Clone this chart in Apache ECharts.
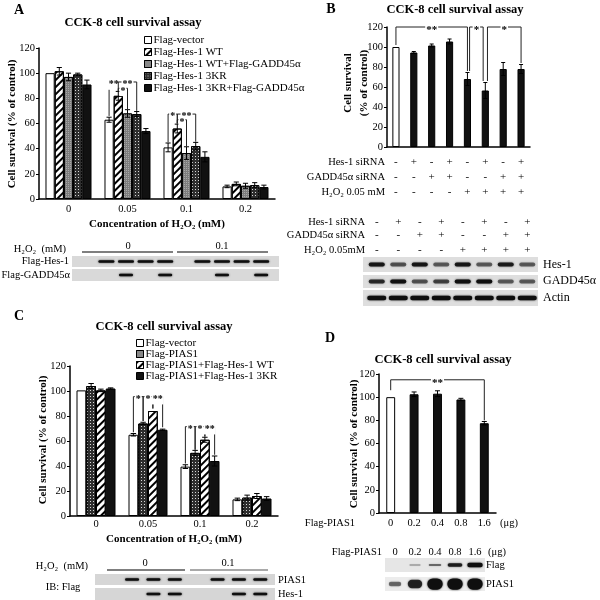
<!DOCTYPE html>
<html><head><meta charset="utf-8">
<script src="https://cdn.jsdelivr.net/npm/echarts@6/dist/echarts.min.js"></script>
<style>html,body{margin:0;padding:0;background:#fff}#c{width:600px;height:600px}</style>
</head><body><div id="c"></div>
<script>
// ================= DATA =================
// Panel A
const aCategories = ['0', '0.05', '0.1', '0.2'];
const aSeriesNames = ['Flag-vector', 'Flag-Hes-1 WT', 'Flag-Hes-1 WT+Flag-GADD45α', 'Flag-Hes-1 3KR', 'Flag-Hes-1 3KR+Flag-GADD45α'];
const aVector      = [100, 63, 41, 10];
const aHesWT       = [101.5, 82, 56, 12];
const aHesWTGadd   = [97, 68, 36.5, 10.5];
const aHes3KR      = [99, 67.5, 42, 11];
const aHes3KRGadd  = [91, 54, 33.5, 9.5];
const aVectorErr     = [0, 2, 3.5, 1];
const aHesWTErr      = [3, 3.5, 3.5, 1.5];
const aHesWTGaddErr  = [3, 3, 5, 2];
const aHes3KRErr     = [1, 2, 3, 2];
const aHes3KRGaddErr = [3.5, 2, 4, 1.5];
// brackets: fromCat, fromSlot, toCat, toSlot, yFrom, yTo, yTop, label
const aBrackets = [
  [1, 0, 1, 1, 66, 86, 93, '**'],
  [1, 1, 1, 3, 86, 70, 93, '**'],
  [1, 1, 1, 2, 86, 71, 88, '*'],
  [2, 0, 2, 1, 45, 60, 67.5, '*'],
  [2, 1, 2, 3, 60, 45.5, 67.5, '**'],
  [2, 1, 2, 2, 60, 42, 63, '*']
];
const aBlotLanesH2O2 = ['0', '0.1'];
const aBlotHes  = [0, 1, 1, 1, 1, 0, 1, 1, 1, 1];
const aBlotGadd = [0, 0, 1, 0, 1, 0, 0, 1, 0, 1];

// Panel B
const bValues = [100, 94.5, 101.5, 105.5, 68, 56.5, 78, 78];
const bErr    = [0, 1, 1.5, 2.5, 6.5, 8, 6.5, 4.5];
const bHes1Si = ['-', '+', '-', '+', '-', '+', '-', '+'];
const bGaddSi = ['-', '-', '+', '+', '-', '-', '+', '+'];
const bH2O2   = ['-', '-', '-', '-', '+', '+', '+', '+'];
const bRowLabels  = ['Hes-1 siRNA', 'GADD45α siRNA', 'H₂O₂ 0.05 mM'];
const bBlotRowLabels = ['Hes-1 siRNA', 'GADD45α siRNA', 'H₂O₂ 0.05mM'];
const bBrackets = [
  [0, 0, 4, 0, 102, 76, 120, '**'],
  [4, 0.3, 5, -0.3, 76, 66, 120, '*'],
  [5, 0.3, 7, 0, 66, 84, 120, '*']
];
const bBlotHes   = [0.9, 0.5, 0.9, 0.45, 0.9, 0.45, 0.85, 0.45];
const bBlotGadd  = [0.75, 0.95, 0.5, 0.6, 1, 1, 0.45, 0.45];
const bBlotActin = [1, 1, 1, 1, 1, 1, 1, 1];
const bBlotNames = ['Hes-1', 'GADD45α', 'Actin'];

// Panel C
const cCategories = ['0', '0.05', '0.1', '0.2'];
const cSeriesNames = ['Flag-vector', 'Flag-PIAS1', 'Flag-PIAS1+Flag-Hes-1 WT', 'Flag-PIAS1+Flag-Hes-1 3KR'];
const cVector      = [100.5, 65, 39.5, 13.3];
const cPIAS1       = [104, 74, 50.5, 14.7];
const cPIAS1HesWT  = [100.5, 84, 61, 16];
const cPIAS1Hes3KR = [102, 69, 44, 14];
const cVectorErr      = [0, 1, 1.5, 1];
const cPIAS1Err       = [2, 1, 2, 2];
const cPIAS1HesWTErr  = [1, 0, 2, 2];
const cPIAS1Hes3KRErr = [0.5, 0.5, 4, 1.5];
const cBrackets = [
  [1, 0, 1, 1, 67, 76, 95.5, '*'],
  [1, 1, 1, 2, 76, 86, 95.5, '*'],
  [1, 2, 1, 3, 86, 71, 95.5, '**'],
  [2, 0, 2, 1, 42, 53, 71.5, '*'],
  [2, 1, 2, 2, 53, 63.5, 71.5, '*'],
  [2, 2, 2, 3, 63.5, 49, 71.5, '**']
];
const cBlotPIAS1 = [0, 1, 1, 1, 0, 1, 1, 1];
const cBlotHes   = [0, 0, 1, 1, 0, 0, 1, 1];
const cBlotNames = ['PIAS1', 'Hes-1'];

// Panel D
const dCategories = ['0', '0.2', '0.4', '0.8', '1.6'];
const dValues = [100, 102.5, 103, 98, 77.5];
const dErr    = [0, 2, 2.5, 1, 1.5];
const dBrackets = [[0, 0, 4, 0, 106, 80, 115, '**']];
const dBlotFlag  = [0, 0.15, 0.4, 0.85, 1];
const dBlotPIAS1 = [0.4, 0.8, 1, 1, 1];
const dBlotNames = ['Flag', 'PIAS1'];

const yTicks = [0, 20, 40, 60, 80, 100, 120];
const yName = 'Cell survival (% of control)';
const yNameB = 'Cell survival\n(% of control)';

// ================= STYLE / LAYOUT =================
const SERIF = '"Liberation Serif","DejaVu Serif",serif';
const BLACK = '#000';
const gapA = 0.22, gapB = 0.6, gapC = 0.25, gapD = 0.62;

const styleWhite = {color: '#fff', borderColor: BLACK, borderWidth: 1};
const styleHatch = {color: '#fff', borderColor: BLACK, borderWidth: 1,
  decal: {symbol: 'rect', symbolSize: 1, dashArrayX: [1, 0], dashArrayY: [1.3, 2.7], rotation: -Math.PI / 4, color: '#000'}};
const styleGray = {color: '#7d7d7d', borderColor: BLACK, borderWidth: 1,
  decal: {symbol: 'rect', symbolSize: 1, dashArrayX: [1, 1], dashArrayY: [1, 1], color: '#a8a8a8'}};
const styleGrid = {color: '#2e2e2e', borderColor: BLACK, borderWidth: 1,
  decal: {symbol: 'rect', symbolSize: 1, dashArrayX: [1, 1.5], dashArrayY: [1, 1.5], color: '#d8d8d8'}};
const styleBlack = {color: '#111', borderColor: BLACK, borderWidth: 1};

function yAxisCfg(gi) {
  return {
    type: 'value', gridIndex: gi, min: 0, max: 120, interval: 20,
    axisLine: {show: true, lineStyle: {color: BLACK, width: 1.5}},
    axisTick: {show: true, length: 3, lineStyle: {color: BLACK, width: 1}},
    axisLabel: {fontFamily: SERIF, fontSize: 10.5, color: BLACK, margin: 4,
      formatter: v => yTicks.indexOf(v) >= 0 ? String(v) : ''},
    splitLine: {show: false}
  };
}
function xAxisCfg(gi, cats, margin, name, nameGap, extraLabel) {
  return Object.assign({
    type: 'category', gridIndex: gi, data: cats,
    axisLine: {show: true, lineStyle: {color: BLACK, width: 1.5}},
    axisTick: {show: false},
    axisLabel: {fontFamily: SERIF, fontSize: 10.5, color: BLACK, margin: margin, interval: 0},
    name: name || '', nameLocation: 'middle', nameGap: nameGap || 0,
    nameTextStyle: {fontFamily: SERIF, fontSize: 11, fontWeight: 'bold', color: BLACK}
  }, extraLabel || {});
}

function barSeries(name, gi, values, style, gap, dataStyleFn) {
  return {
    type: 'bar', name: name, xAxisIndex: gi, yAxisIndex: gi,
    data: values.map((v, i) => dataStyleFn ? dataStyleFn(v, i) : v),
    barGap: '0%', barCategoryGap: (gap * 100) + '%',
    itemStyle: style, z: 2, emphasis: {disabled: true}, animation: false
  };
}
function slotX(api, cat, slot, n, gap) {
  const cw = api.size([1, 0])[0];
  const gw = cw * (1 - gap), bw = gw / n;
  return api.coord([cat, 0])[0] - gw / 2 + (slot + 0.5) * bw;
}
function errorSeries(gi, values, errs, slot, n, gap) {
  return {
    type: 'custom', xAxisIndex: gi, yAxisIndex: gi, silent: true, z: 5, animation: false,
    data: values.map((v, i) => [i, v, errs[i]]),
    renderItem: (params, api) => {
      const cat = api.value(0), v = api.value(1), e = api.value(2);
      if (!e) return null;
      const cw = api.size([1, 0])[0];
      const bw = cw * (1 - gap) / n;
      const x = slotX(api, cat, slot, n, gap);
      const yT = api.coord([cat, v + e])[1], yB = api.coord([cat, v - e])[1];
      const cap = Math.max(2, bw * 0.28);
      const st = {stroke: BLACK, lineWidth: 1};
      return {type: 'group', children: [
        {type: 'line', shape: {x1: x, y1: yT, x2: x, y2: yB}, style: st},
        {type: 'line', shape: {x1: x - cap, y1: yT, x2: x + cap, y2: yT}, style: st},
        {type: 'line', shape: {x1: x - cap, y1: yB, x2: x + cap, y2: yB}, style: st}
      ]};
    }
  };
}
function bracketSeries(gi, items, n, gap, fontSize) {
  return {
    type: 'custom', xAxisIndex: gi, yAxisIndex: gi, silent: true, z: 6, animation: false,
    data: items.map(b => [b[0], b[6]]),
    renderItem: (params, api) => {
      const b = items[params.dataIndex];
      const x1 = slotX(api, b[0], b[1], n, gap), x2 = slotX(api, b[2], b[3], n, gap);
      const y1 = api.coord([0, b[4]])[1], y2 = api.coord([0, b[5]])[1], yt = api.coord([0, b[6]])[1];
      return {type: 'group', children: [
        {type: 'polyline', shape: {points: [[x1, y1], [x1, yt], [x2, yt], [x2, y2]]},
          style: {stroke: '#222', lineWidth: 1, fill: null}},
        {type: 'text', x: (x1 + x2) / 2, y: yt + fontSize * 0.28,
          style: {text: b[7], align: 'center', verticalAlign: 'middle', fill: BLACK,
            font: 'bold ' + fontSize + 'px ' + SERIF, backgroundColor: '#fff', padding: [0, 1]}}
      ]};
    }
  };
}

// ---------- graphic helpers ----------
function T(text, x, y, opt) {
  opt = opt || {};
  const align = opt.align || 'left';
  const el = {type: 'text', x: x, y: y, silent: true, z: 10,
    style: {text: text, fill: BLACK, font: (opt.bold ? 'bold ' : '') + (opt.size || 11) + 'px ' + SERIF,
      align: align, textAlign: align, verticalAlign: 'middle', textVerticalAlign: 'middle'}};
  if (opt.rotate) el.rotation = opt.rotate;
  if (opt.lineHeight) el.style.lineHeight = opt.lineHeight;
  return el;
}
function L(x1, y1, x2, y2, w, c) {
  return {type: 'line', silent: true, shape: {x1, y1, x2, y2}, style: {stroke: c || BLACK, lineWidth: w || 1}};
}
function lanes(xa, xb, n) {
  const w = (xb - xa) / n;
  return Array.from({length: n}, (_, i) => xa + (i + 0.5) * w);
}
function strip(x0, x1, y0, y1, centers, intens, bw, bh, bg, grow) {
  const els = [{type: 'rect', silent: true, shape: {x: x0, y: y0, width: x1 - x0, height: y1 - y0}, style: {fill: bg}}];
  const cy = (y0 + y1) / 2;
  centers.forEach((cx, i) => {
    const I = intens[i];
    if (!I) return;
    const w = grow ? bw * (0.75 + 0.35 * I) : bw;
    const h = grow ? bh * (0.35 + 0.9 * I * I) : bh;
    const a = 0.2 + 0.8 * I;
    els.push({type: 'rect', silent: true, shape: {x: cx - w / 2, y: cy - h / 2, width: w, height: h, r: h / 2},
      style: {fill: 'rgba(15,15,15,' + a + ')', shadowBlur: 2, shadowColor: 'rgba(15,15,15,' + (a * 0.8) + ')'}});
  });
  return els;
}

// ================= BUILD =================
const graphics = [];
graphics.push(T('A', 19, 10, {bold: true, size: 14, align: 'center'}));
graphics.push(T('B', 331, 9, {bold: true, size: 14, align: 'center'}));
graphics.push(T('C', 19, 316, {bold: true, size: 14, align: 'center'}));
graphics.push(T('D', 330, 338, {bold: true, size: 14, align: 'center'}));
const TITLE = 'CCK-8 cell survival assay';
graphics.push(T(TITLE, 133, 23, {bold: true, size: 12.5, align: 'center'}));
graphics.push(T(TITLE, 455, 10, {bold: true, size: 12.5, align: 'center'}));
graphics.push(T(TITLE, 164, 327, {bold: true, size: 12.5, align: 'center'}));
graphics.push(T(TITLE, 443, 360, {bold: true, size: 12.5, align: 'center'}));
// y axis titles
const ROT = Math.PI / 2;
graphics.push(T(yName, 12, 124, {bold: true, size: 11, align: 'center', rotate: ROT}));
graphics.push(T(yNameB, 356.5, 83, {bold: true, size: 11, align: 'center', rotate: ROT, lineHeight: 16}));
graphics.push(T(yName, 43, 440, {bold: true, size: 11, align: 'center', rotate: ROT}));
graphics.push(T(yName, 354, 444, {bold: true, size: 11, align: 'center', rotate: ROT}));

// ---- Panel A blot ----
{
  const ln = [...lanes(77, 175, 5), ...lanes(173, 271, 5)];
  graphics.push(T('H₂O₂  (mM)', 66, 249, {align: 'right', size: 10.5}));
  graphics.push(L(82, 252, 173, 252, 1.2));
  graphics.push(L(177, 252, 268, 252, 1.2));
  graphics.push(T(aBlotLanesH2O2[0], 128, 246, {align: 'center', size: 10.5}));
  graphics.push(T(aBlotLanesH2O2[1], 222, 246, {align: 'center', size: 10.5}));
  graphics.push(...strip(72, 279, 256, 267, ln, aBlotHes, 16, 2.6, '#d9d9d9'));
  graphics.push(...strip(72, 279, 269, 281, ln, aBlotGadd, 14, 2.6, '#d9d9d9'));
  graphics.push(T('Flag-Hes-1', 69, 261, {align: 'right', size: 10.5}));
  graphics.push(T('Flag-GADD45α', 70, 275, {align: 'right', size: 10.5}));
}
// ---- Panel B table & blot ----
{
  [162.7, 177.7, 192.7].forEach((y, r) => graphics.push(T(bRowLabels[r], 385, y, {align: 'right', size: 10.5})));
  const ln = lanes(366, 538, 8);
  const rows = [bHes1Si, bGaddSi, bH2O2];
  [222, 235, 250].forEach((y, r) => {
    graphics.push(T(bBlotRowLabels[r], 365, y, {align: 'right', size: 10.5}));
    rows[r].forEach((s, i) => graphics.push(T(s, ln[i], y, {align: 'center', size: 11})));
  });
  graphics.push(...strip(363, 538, 257, 272, ln, bBlotHes, 16, 4, '#dedede'));
  graphics.push(...strip(363, 538, 275, 288, ln, bBlotGadd, 16, 4, '#dedede'));
  graphics.push(...strip(363, 538, 290, 306, ln, bBlotActin, 19, 4.5, '#dedede'));
  [265, 281, 298].forEach((y, r) => graphics.push(T(bBlotNames[r], 543, y, {size: 12})));
}
// ---- Panel C blot ----
{
  const ln = lanes(100, 271, 8);
  graphics.push(T('H₂O₂  (mM)', 88, 566, {align: 'right', size: 10.5}));
  graphics.push(L(107, 570, 185, 570, 1.2));
  graphics.push(L(190, 570, 268, 570, 1.2, '#555'));
  graphics.push(T(aBlotLanesH2O2[0], 145, 563, {align: 'center', size: 10.5}));
  graphics.push(T(aBlotLanesH2O2[1], 228, 563, {align: 'center', size: 10.5}));
  graphics.push(...strip(95, 275, 574, 585, ln, cBlotPIAS1, 14, 2.6, '#d6d6d6'));
  graphics.push(...strip(95, 275, 588, 600, ln, cBlotHes, 14, 2.6, '#d6d6d6'));
  graphics.push(T('IB: Flag', 63, 587, {align: 'center', size: 10.5}));
  graphics.push(T(cBlotNames[0], 278, 580, {size: 10.5}));
  graphics.push(T(cBlotNames[1], 278, 594, {size: 10.5}));
}
// ---- Panel D extras & blot ----
{
  graphics.push(T('Flag-PIAS1', 355, 523, {align: 'right', size: 10.5}));
  graphics.push(T('(μg)', 500, 523, {size: 10.5}));
  const ln = lanes(385, 485, 5);
  graphics.push(T('Flag-PIAS1', 382, 552, {align: 'right', size: 10.5}));
  dCategories.forEach((c, i) => graphics.push(T(c, ln[i], 552, {align: 'center', size: 10.5})));
  graphics.push(T('(μg)', 488, 552, {size: 10.5}));
  graphics.push(...strip(385, 485, 558, 572, ln, dBlotFlag, 14, 3.6, '#e6e6e6', true));
  graphics.push(...strip(385, 485, 577, 591, ln, dBlotPIAS1, 14, 9, '#ececec', true));
  graphics.push(T(dBlotNames[0], 486, 565, {size: 10.5}));
  graphics.push(T(dBlotNames[1], 486, 584, {size: 10.5}));
}

const aVals = [aVector, aHesWT, aHesWTGadd, aHes3KR, aHes3KRGadd];
const aErrs = [aVectorErr, aHesWTErr, aHesWTGaddErr, aHes3KRErr, aHes3KRGaddErr];
const aStyles = [styleWhite, styleHatch, styleGray, styleGrid, styleBlack];
const cVals = [cVector, cPIAS1, cPIAS1HesWT, cPIAS1Hes3KR];
const cErrs = [cVectorErr, cPIAS1Err, cPIAS1HesWTErr, cPIAS1Hes3KRErr];
const cLegendStyles = [styleWhite, styleGray, styleHatch, styleBlack];
const cStylesBar = [styleWhite, styleGrid, styleHatch, styleBlack];

const series = [];
aVals.forEach((v, i) => series.push(barSeries(aSeriesNames[i], 0, v, aStyles[i], gapA)));
aVals.forEach((v, i) => series.push(errorSeries(0, v, aErrs[i], i, 5, gapA)));
series.push(bracketSeries(0, aBrackets, 5, gapA, 10));

series.push(barSeries('B', 1, bValues, styleBlack, gapB, (v, i) => i === 0 ? {value: v, itemStyle: styleWhite} : v));
series.push(errorSeries(1, bValues, bErr, 0, 1, gapB));
series.push(bracketSeries(1, bBrackets, 1, gapB, 11));

cVals.forEach((v, i) => series.push(barSeries(cSeriesNames[i], 2, v, cStylesBar[i], gapC)));
cVals.forEach((v, i) => series.push(errorSeries(2, v, cErrs[i], i, 4, gapC)));
series.push(bracketSeries(2, cBrackets, 4, gapC, 10));

series.push(barSeries('D', 3, dValues, styleBlack, gapD, (v, i) => i === 0 ? {value: v, itemStyle: styleWhite} : v));
series.push(errorSeries(3, dValues, dErr, 0, 1, gapD));
series.push(bracketSeries(3, dBrackets, 1, gapD, 11));

const legendCommon = {orient: 'vertical', icon: 'rect', itemWidth: 7, itemHeight: 7, selectedMode: false, padding: 0,
  textStyle: {fontFamily: SERIF, fontSize: 11, lineHeight: 11, color: BLACK, padding: [0, 0, 0, -3]},
  itemStyle: {borderColor: BLACK, borderWidth: 1}};

const option = {
  animation: false,
  backgroundColor: '#fff',
  textStyle: {fontFamily: SERIF},
  grid: [
    {left: 39, top: 48, width: 236, height: 151},
    {left: 387, top: 27, width: 143, height: 120},
    {left: 70, top: 366, width: 208, height: 150},
    {left: 379, top: 374, width: 117, height: 139}
  ],
  xAxis: [
    xAxisCfg(0, aCategories, 5, 'Concentration of H₂O₂ (mM)', 20),
    xAxisCfg(1, bValues.map((_, i) => String(i)), 8, '', 0, {
      axisLabel: {interval: 0, fontFamily: SERIF, fontSize: 11, color: BLACK, margin: 8, lineHeight: 15,
        formatter: (v, i) => [bHes1Si[i], bGaddSi[i], bH2O2[i]].join('\n')}
    }),
    xAxisCfg(2, cCategories, 3, 'Concentration of H₂O₂ (mM)', 18),
    xAxisCfg(3, dCategories, 5)
  ],
  yAxis: [yAxisCfg(0), yAxisCfg(1), yAxisCfg(2), yAxisCfg(3)],
  legend: [
    Object.assign({data: aSeriesNames, left: 144, top: 34.5, itemGap: 1}, legendCommon),
    Object.assign({data: cSeriesNames.map((n, i) => ({name: n, itemStyle: cLegendStyles[i]})),
      left: 136, top: 337.5, itemGap: 0}, legendCommon)
  ],
  series: series,
  graphic: {elements: graphics}
};
const chart = echarts.init(document.getElementById('c'), null, {renderer: 'canvas'});
chart.setOption(option);
</script>
</body></html>
